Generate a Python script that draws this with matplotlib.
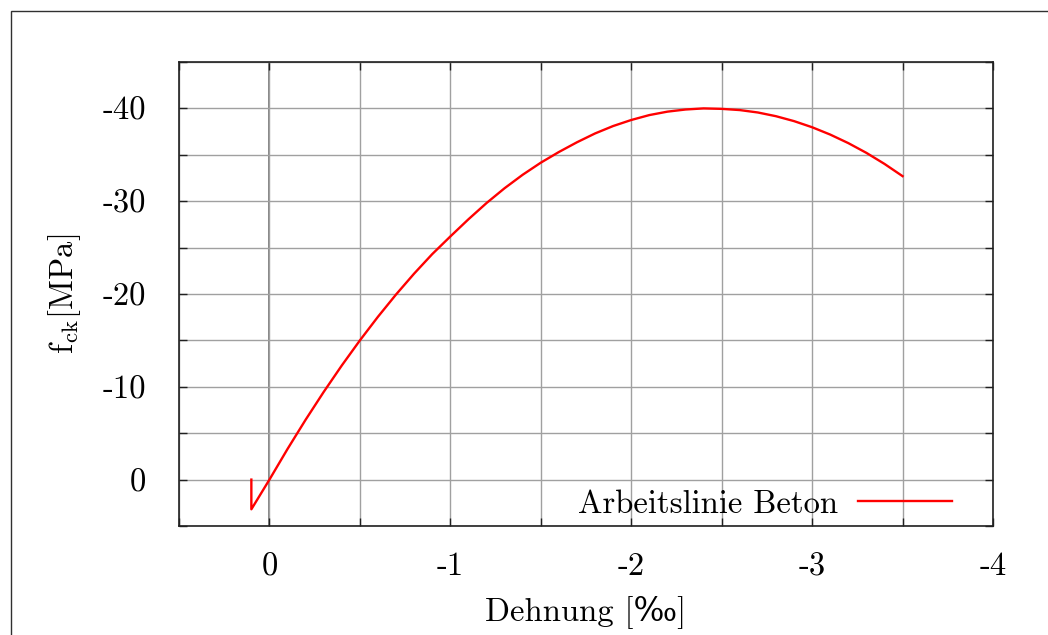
import matplotlib
matplotlib.use("Agg")
import matplotlib.pyplot as plt
from matplotlib.patches import Rectangle
import numpy as np

# Arbeitslinie Beton, values (strain in permille, stress in MPa)
dehnung = [0.1, 0.1, 0.0, -0.1, -0.2, -0.3, -0.4, -0.5, -0.6, -0.7, -0.8,
           -0.9, -1.0, -1.1, -1.2, -1.3, -1.4, -1.5, -1.6, -1.7, -1.8, -1.9,
           -2.0, -2.1, -2.2, -2.3, -2.4, -2.5, -2.6, -2.7, -2.8, -2.9, -3.0,
           -3.1, -3.2, -3.3, -3.4, -3.5]
spannung = [0.0, 3.2, 0.0, -3.3, -6.45, -9.45, -12.3, -15.0, -17.55, -19.95,
            -22.2, -24.3, -26.2, -28.05, -29.8, -31.4, -32.85, -34.15, -35.3,
            -36.35, -37.3, -38.1, -38.75, -39.28, -39.65, -39.88, -40.0,
            -39.95, -39.82, -39.56, -39.16, -38.63, -37.97, -37.18, -36.26,
            -35.21, -34.02, -32.7]

x_ticks = np.arange(0.5, -4.01, -0.5)
y_ticks = np.arange(5, -45.1, -5)
x_labels = ["0", "-1", "-2", "-3", "-4"]
y_labels = ["0", "-10", "-20", "-30", "-40"]

plt.rcParams['font.family'] = ['cmr10', 'DejaVu Serif']
plt.rcParams['mathtext.fontset'] = 'cm'
plt.rcParams['axes.unicode_minus'] = False
plt.rcParams['axes.formatter.use_mathtext'] = True

fs = 23.5

fig = plt.figure(figsize=(10.48, 6.35), dpi=100)
ax = fig.add_axes([179/1048, 1-526/635, (993-179)/1048, (526-62)/635])

# frame round the whole picture
fig.patches.append(Rectangle((11/1048, -0.1), 1.2, 1-11/635+0.1,
                             transform=fig.transFigure, fill=False,
                             edgecolor='#303030', linewidth=1.0))

ax.plot(dehnung, spannung, color='red', linewidth=1.7, label='Arbeitslinie Beton')
ax.axvline(0, color='#707070', linewidth=1.2, zorder=0)

ax.set_xlim(0.5, -4)
ax.set_ylim(5, -45)
ax.set_xticks(x_ticks)
ax.set_yticks(y_ticks)
ax.set_xticklabels([x_labels[int(round(-t))] if abs(t - round(t)) < 1e-9 and t <= 0 else ""
                    for t in x_ticks])
ax.set_yticklabels([y_labels[int(round(-t / 10))] if abs(t % 10) < 1e-9 and t <= 0 else ""
                    for t in y_ticks])
ax.tick_params(direction='in', length=6, width=1, top=True, right=True,
               labelsize=fs, color='#202020')
ax.tick_params(axis='x', pad=19)
ax.tick_params(axis='y', pad=24)
ax.grid(True, color='#a0a0a0', linewidth=1.0)
ax.set_axisbelow(True)
for s in ax.spines.values():
    s.set_linewidth(1.2)
    s.set_color('#202020')

ax.set_xlabel("Dehnung [‰]", fontsize=fs, labelpad=10)
ax.set_ylabel(r"$\mathrm{f}_{\mathrm{ck}}$[MPa]", fontsize=fs, labelpad=14)

ax.legend(loc='lower right', frameon=False, markerfirst=False, fontsize=fs,
          handlelength=2.9, handletextpad=0.6, borderaxespad=0.0,
          bbox_to_anchor=(0.966, -0.012))

fig.savefig("out.png", dpi=100)
